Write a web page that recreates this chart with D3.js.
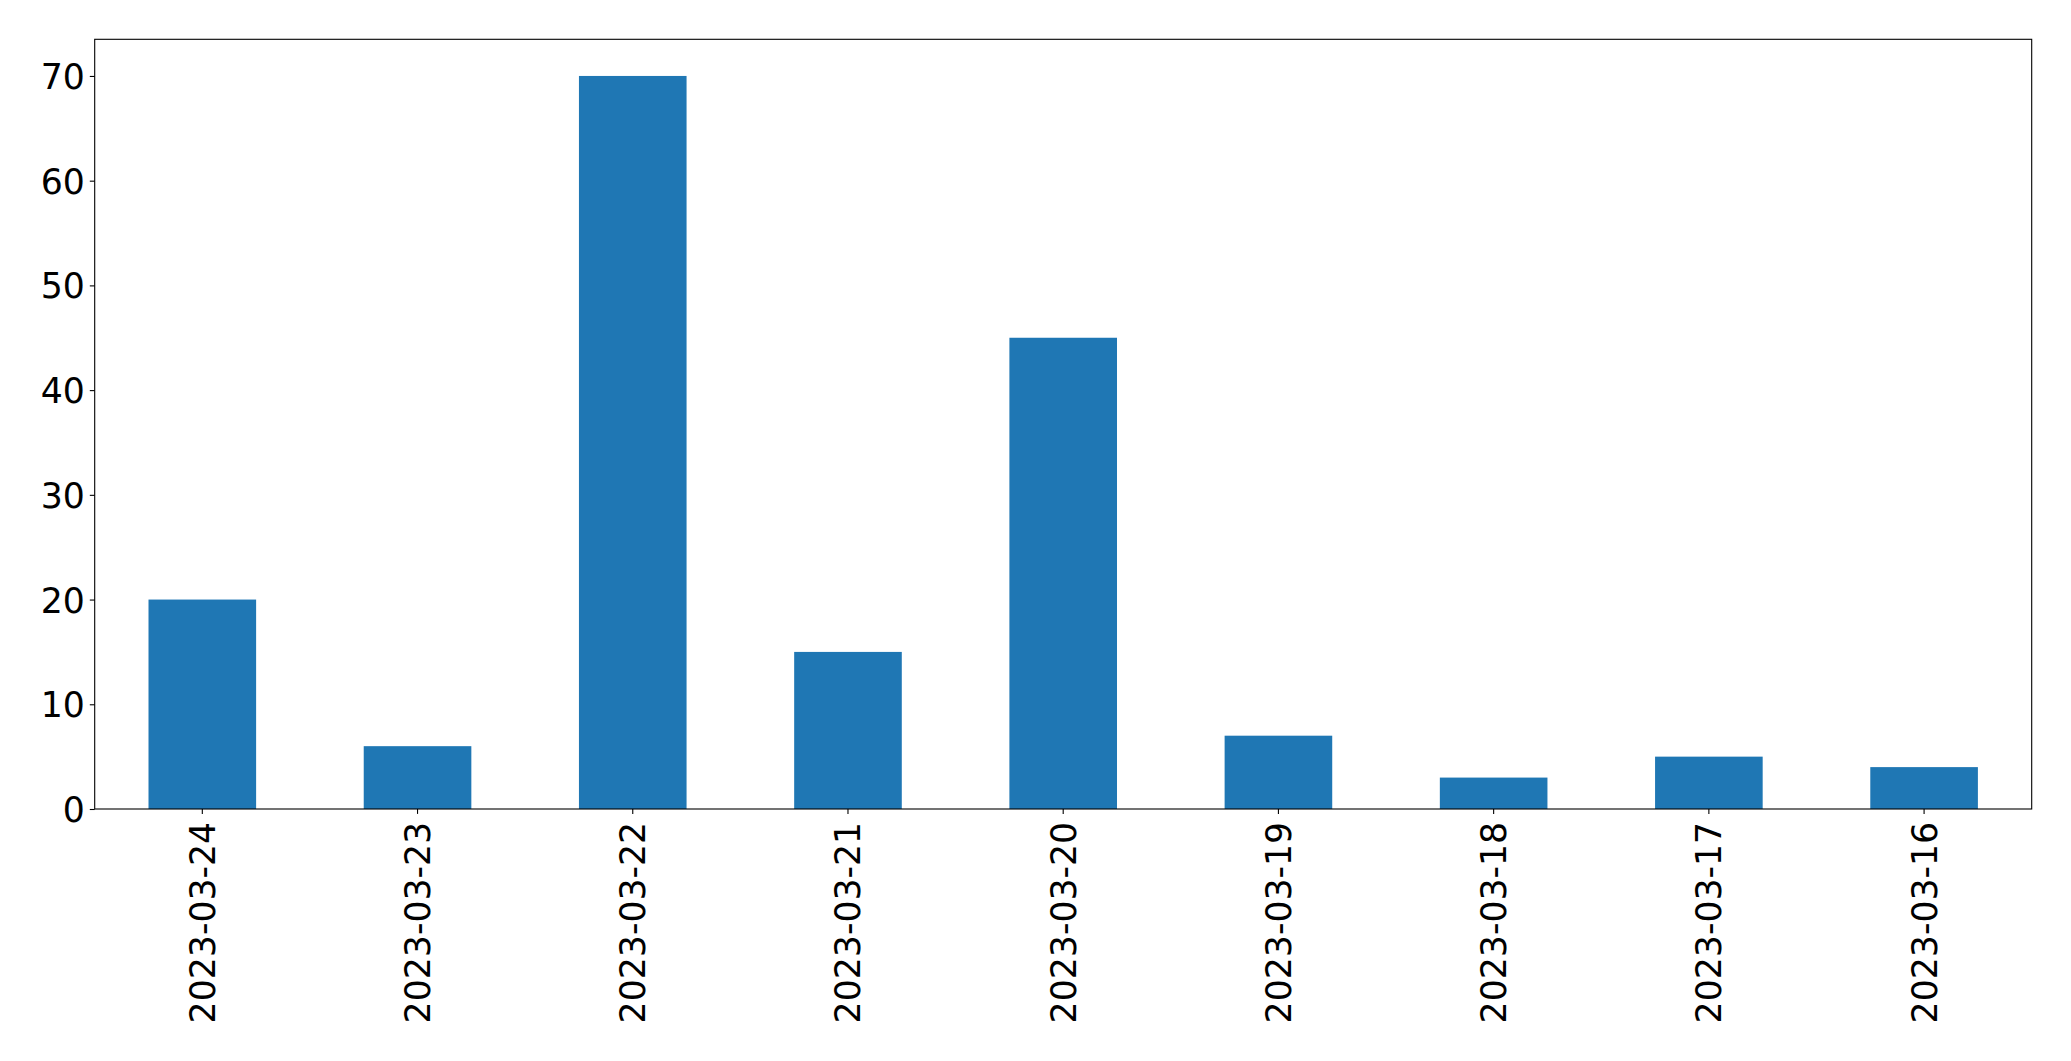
<!DOCTYPE html>
<html>
<head>
<meta charset="utf-8">
<script src="https://cdn.jsdelivr.net/npm/d3@7"></script>
<style>
  body { margin: 0; background: #fff; }
  svg { display: block; }
  .tick text { font-family: "DejaVu Sans", sans-serif; fill: #000; }
</style>
</head>
<body>
<div id="chart"></div>
<script>
var dates = ["2023-03-24", "2023-03-23", "2023-03-22", "2023-03-21", "2023-03-20",
             "2023-03-19", "2023-03-18", "2023-03-17", "2023-03-16"];
var counts = [20, 6, 70, 15, 45, 7, 3, 5, 4];
var yTicks = [0, 10, 20, 30, 40, 50, 60, 70];

var W = 2071, H = 1061;
// plot box (window.top is reserved, so prefixed names)
var plotLeft = 94.7, plotRight = 2031.7, plotTop = 39.3, plotBottom = 809;
var fontPx = 34.7, tickLen = 4.9, pad = 4.9;

var svg = d3.select("#chart").append("svg")
    .attr("width", W)
    .attr("height", H);

var x = d3.scaleBand()
    .domain(dates)
    .range([plotLeft, plotRight])
    .paddingInner(0.5)
    .paddingOuter(0.25);

var y = d3.scaleLinear()
    .domain([0, 73.5])
    .range([plotBottom, plotTop]);

// bars
svg.selectAll(".bar")
    .data(dates)
    .enter()
    .append("rect")
    .attr("class", "bar")
    .attr("x", function(d) { return x(d); })
    .attr("y", function(d, i) { return y(counts[i]); })
    .attr("width", x.bandwidth())
    .attr("height", function(d, i) { return plotBottom - y(counts[i]); })
    .attr("fill", "#1f77b4");

// y axis
var yAxis = svg.append("g")
    .attr("transform", "translate(" + plotLeft + ",0)")
    .call(d3.axisLeft(y).tickValues(yTicks).tickSize(tickLen).tickPadding(pad));
yAxis.select(".domain").remove();
yAxis.selectAll(".tick line").attr("stroke", "#000").attr("stroke-width", 1.1);
yAxis.selectAll(".tick text")
    .style("font-size", fontPx + "px")
    .attr("dy", "0.36em");

// x axis
var xAxis = svg.append("g")
    .attr("transform", "translate(0," + plotBottom + ")")
    .call(d3.axisBottom(x).tickSize(tickLen).tickPadding(pad));
xAxis.select(".domain").remove();
xAxis.selectAll(".tick line").attr("stroke", "#000").attr("stroke-width", 1.1);
xAxis.selectAll(".tick text")
    .style("font-size", fontPx + "px")
    .attr("text-anchor", "end")
    .attr("x", 0)
    .attr("y", 0)
    .attr("dy", "0.36em")
    .attr("transform", "translate(0," + (tickLen + pad + 3) + ") rotate(-90)");

// frame
svg.append("rect")
    .attr("x", plotLeft)
    .attr("y", plotTop)
    .attr("width", plotRight - plotLeft)
    .attr("height", plotBottom - plotTop)
    .attr("fill", "none")
    .attr("stroke", "#000")
    .attr("stroke-width", 1.1);
</script>
</body>
</html>
